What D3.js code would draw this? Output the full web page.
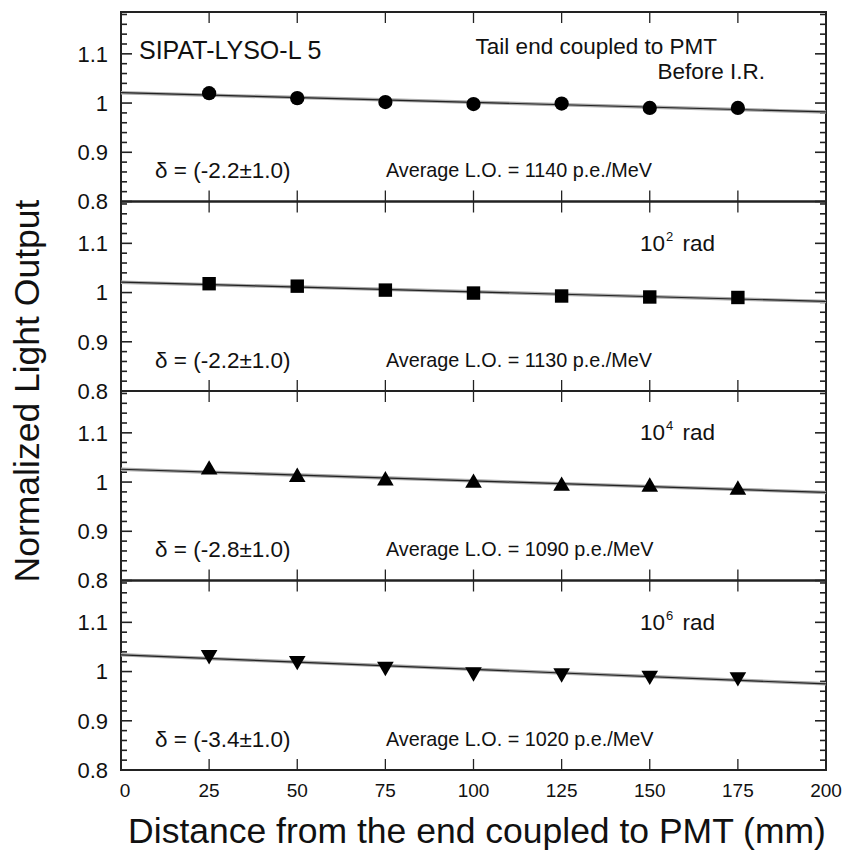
<!DOCTYPE html>
<html>
<head>
<meta charset="utf-8">
<script src="https://cdn.jsdelivr.net/npm/d3@7"></script>
<style>
  html, body { margin: 0; padding: 0; background: #fff; }
  text { font-family: "Liberation Sans", Arial, Helvetica, sans-serif; fill: #111; }
</style>
</head>
<body>
<svg id="chart" width="848" height="852"></svg>
<script>
// Longitudinal light response uniformity of SIPAT-LYSO-L 5 at successive doses
const positions = [25, 50, 75, 100, 125, 150, 175];

const doseLabels = ["Before I.R.", "2", "4", "6"];
const markerShapes = ["circle", "square", "triangle", "triangleDown"];

const lightOutput0 = [1.020, 1.010, 1.002, 0.998, 0.999, 0.990, 0.990];
const lightOutput2 = [1.018, 1.013, 1.005, 0.999, 0.993, 0.991, 0.990];
const lightOutput4 = [1.025, 1.010, 1.003, 0.998, 0.992, 0.990, 0.984];
const lightOutput6 = [1.034, 1.022, 1.010, 0.999, 0.997, 0.992, 0.989];
const seriesValues = [lightOutput0, lightOutput2, lightOutput4, lightOutput6];

// linear fit end points at 0 mm and 200 mm
const fitStart = [1.021, 1.021, 1.026, 1.034];
const fitEnd = [0.982, 0.982, 0.979, 0.975];

const deltas = ["δ = (-2.2±1.0)", "δ = (-2.2±1.0)", "δ = (-2.8±1.0)", "δ = (-3.4±1.0)"];
const averageLO = [1140, 1130, 1090, 1020];

const xTicks = [0, 25, 50, 75, 100, 125, 150, 175, 200];
const yTicks = [0.8, 0.9, 1, 1.1];

const svg = d3.select("#chart");
const plotLeft = 121, plotRight = 826, plotTop = 12, plotBottom = 770;
const nPanels = 4;
const panelH = (plotBottom - plotTop) / nPanels;

const x = d3.scaleLinear().domain([0, 200]).range([plotLeft, plotRight]);

const fitLine = d3.line().x(d => x(d[0])).y(d => d[1]);

const symbolFor = {
  circle: d3.symbol().type(d3.symbolCircle).size(160),
  square: d3.symbol().type(d3.symbolSquare).size(180),
  triangle: d3.symbol().type(d3.symbolTriangle).size(120),
  triangleDown: d3.symbol().type(d3.symbolTriangle).size(120)
};

seriesValues.forEach((vals, i) => {
  const p0 = plotTop + i * panelH;
  const y = d3.scaleLinear().domain([0.8, 1.185]).range([p0 + panelH, p0]);
  const g = svg.append("g");

  // y minor ticks every 0.02, major every 0.1, on both sides
  const minor = d3.range(0.8, 1.1851, 0.02).map(v => +v.toFixed(2));
  const isMajor = v => yTicks.some(t => Math.abs(t - v) < 1e-6);
  g.selectAll(".ytl").data(minor).join("line")
    .attr("x1", plotLeft).attr("x2", d => plotLeft + (isMajor(d) ? 11 : 6))
    .attr("y1", d => y(d)).attr("y2", d => y(d))
    .attr("stroke", "#222").attr("stroke-width", 1.6);
  g.selectAll(".ytr").data(minor).join("line")
    .attr("x1", plotRight).attr("x2", d => plotRight - (isMajor(d) ? 11 : 6))
    .attr("y1", d => y(d)).attr("y2", d => y(d))
    .attr("stroke", "#222").attr("stroke-width", 1.6);

  // x ticks top and bottom of every panel
  const xt = xTicks.slice(1, -1);
  g.selectAll(".xtt").data(xt).join("line")
    .attr("x1", d => x(d)).attr("x2", d => x(d))
    .attr("y1", p0).attr("y2", p0 + 11)
    .attr("stroke", "#222").attr("stroke-width", 1.3);
  g.selectAll(".xtb").data(xt).join("line")
    .attr("x1", d => x(d)).attr("x2", d => x(d))
    .attr("y1", p0 + panelH).attr("y2", p0 + panelH - 11)
    .attr("stroke", "#222").attr("stroke-width", 1.3);

  // y tick labels
  g.selectAll(".ylab").data(yTicks).join("text")
    .attr("x", 108).attr("y", d => y(d)).attr("dy", "0.36em")
    .attr("text-anchor", "end").attr("font-size", 22)
    .text(d => d === 1 ? "1" : d3.format(".1f")(d));

  // panel frame
  g.append("rect")
    .attr("x", plotLeft).attr("y", p0).attr("width", plotRight - plotLeft).attr("height", panelH)
    .attr("fill", "none").attr("stroke", "#222").attr("stroke-width", 2);

  // fit line with soft halo
  const pts = [[0, y(fitStart[i])], [200, y(fitEnd[i])]];
  g.append("path").attr("d", fitLine(pts))
    .attr("fill", "none").attr("stroke", "#aaa").attr("stroke-width", 3.5);
  g.append("path").attr("d", fitLine(pts))
    .attr("fill", "none").attr("stroke", "#222").attr("stroke-width", 1.2);

  // markers
  const shape = markerShapes[i];
  g.selectAll(".pt").data(vals).join("path")
    .attr("d", symbolFor[shape])
    .attr("transform", (d, k) => `translate(${x(positions[k])},${y(d)})` + (shape === "triangleDown" ? " rotate(180)" : ""))
    .attr("fill", "#000");

  // annotations
  g.append("text").attr("x", 155).attr("y", p0 + 166)
    .attr("font-size", 22.5).text(deltas[i]);
  g.append("text").attr("x", 386).attr("y", p0 + 165)
    .attr("font-size", 19.8).text(`Average L.O. = ${averageLO[i]} p.e./MeV`);

  if (i === 0) {
    g.append("text").attr("x", 139).attr("y", p0 + 47)
      .attr("font-size", 25).text("SIPAT-LYSO-L 5");
    g.append("text").attr("x", 717).attr("y", p0 + 42)
      .attr("text-anchor", "end").attr("font-size", 22.5).text("Tail end coupled to PMT");
    g.append("text").attr("x", 765).attr("y", p0 + 67)
      .attr("text-anchor", "end").attr("font-size", 22.5).text(doseLabels[i]);
  } else {
    const t = g.append("text").attr("x", 640).attr("y", p0 + 49).attr("font-size", 22.5);
    t.append("tspan").text("10");
    t.append("tspan").attr("font-size", 13).attr("dx", 1).attr("dy", -10).text(doseLabels[i]);
    t.append("tspan").attr("dy", 10).attr("dx", 3).text(" rad");
  }
});

// x tick labels
svg.selectAll(".xlab").data(xTicks).join("text")
  .attr("x", d => x(d) + (d === 0 ? 4 : 0)).attr("y", plotBottom + 27)
  .attr("text-anchor", "middle").attr("font-size", 19)
  .text(d => d);

// axis titles
svg.append("text")
  .attr("x", 477).attr("y", 843)
  .attr("text-anchor", "middle").attr("font-size", 35.5)
  .text("Distance from the end coupled to PMT (mm)");
svg.append("text")
  .attr("transform", `translate(39,${(plotTop + plotBottom) / 2}) rotate(-90)`)
  .attr("text-anchor", "middle").attr("font-size", 35.5)
  .text("Normalized Light Output");
</script>
</body>
</html>
